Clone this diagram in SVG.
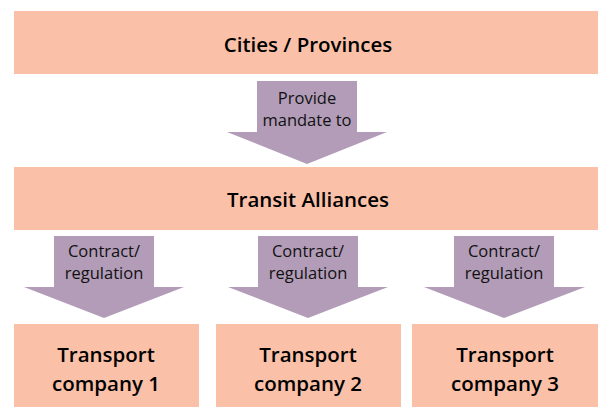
<svg xmlns="http://www.w3.org/2000/svg" width="598" height="407" viewBox="0 0 598 407">
<style>
.box{fill:#FAC0A8}
.arr{fill:#B29CB8}
.h{font-family:"Open Sans","Noto Sans",sans-serif;font-weight:600;font-size:20.5px;fill:#000;text-anchor:middle}
.l{font-family:"Open Sans","Noto Sans",sans-serif;font-size:16.5px;fill:#111;text-anchor:middle}
</style>
<rect width="598" height="407" fill="#fff"/>
<g id="connectors">
<g id="arrow-mandate">
<polygon class="arr" points="257,81 357,81 357,132 387,132 307,164 227,132 257,132"/>
<text class="l" x="307" y="104">Provide</text>
<text class="l" x="307" y="126">mandate to</text>
</g>
<g id="arrow-c1">
<polygon class="arr" points="54,236 154,236 154,287 184,287 104,318 24,287 54,287"/>
<text class="l" x="104" y="257">Contract/</text>
<text class="l" x="104" y="279">regulation</text>
</g>
<g id="arrow-c2">
<polygon class="arr" points="258,236 358,236 358,287 388,287 308,318 228,287 258,287"/>
<text class="l" x="308" y="257">Contract/</text>
<text class="l" x="308" y="279">regulation</text>
</g>
<g id="arrow-c3">
<polygon class="arr" points="454,236 554,236 554,287 585,287 504,318 424,287 454,287"/>
<text class="l" x="504" y="257">Contract/</text>
<text class="l" x="504" y="279">regulation</text>
</g>
</g>
<g id="cities">
<rect class="box" x="14" y="11" width="584" height="63"/>
<text class="h" x="308" y="52">Cities / Provinces</text>
</g>
<g id="transit">
<rect class="box" x="14" y="167" width="584" height="63"/>
<text class="h" x="308" y="207">Transit Alliances</text>
</g>
<g id="company1">
<rect class="box" x="14" y="324" width="185" height="83"/>
<text class="h" x="106" y="362">Transport</text>
<text class="h" x="106" y="391">company 1</text>
</g>
<g id="company2">
<rect class="box" x="216" y="324" width="185" height="83"/>
<text class="h" x="308" y="362">Transport</text>
<text class="h" x="308" y="391">company 2</text>
</g>
<g id="company3">
<rect class="box" x="412" y="324" width="186" height="83"/>
<text class="h" x="505" y="362">Transport</text>
<text class="h" x="505" y="391">company 3</text>
</g>
</svg>
